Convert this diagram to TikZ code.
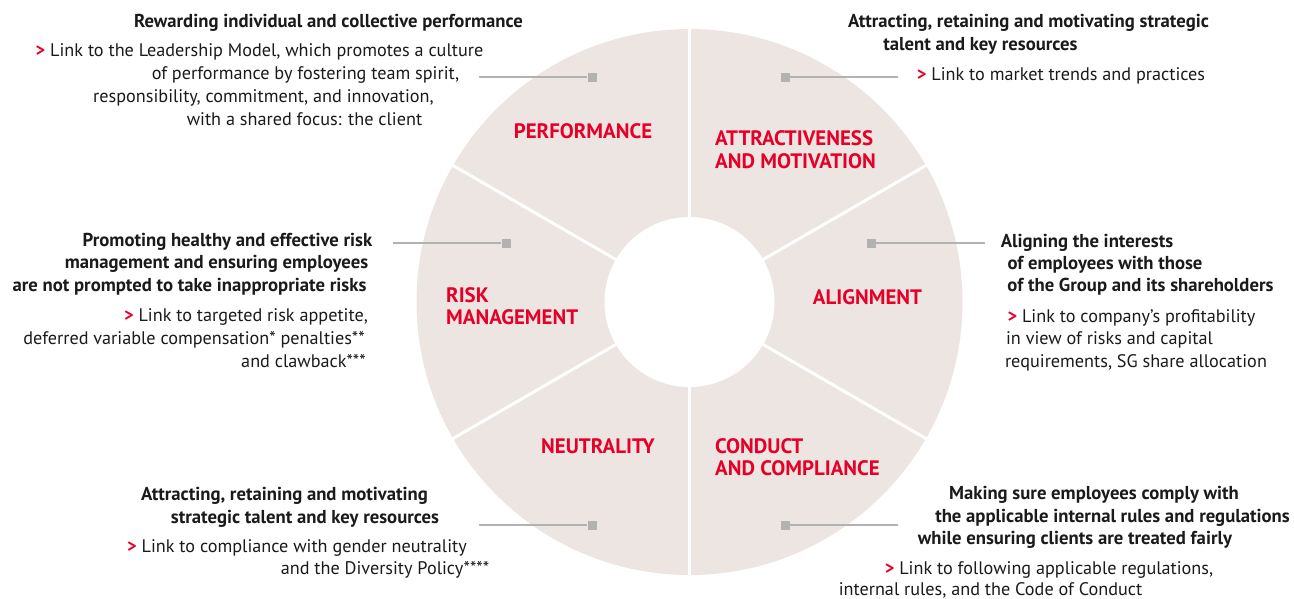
\documentclass[tikz,border=0pt]{standalone}
\usepackage{fontspec}
\setmainfont{PT Sans}
\begin{document}
\definecolor{wheel}{RGB}{236,229,226}
\definecolor{sgred}{RGB}{230,0,40}
\definecolor{ink}{RGB}{26,26,26}
\definecolor{conn}{RGB}{178,178,178}
\tikzset{
  head/.style={anchor=base, inner sep=0pt, text=ink, font=\fontsize{18.7}{22}\selectfont\bfseries},
  body/.style={anchor=base, inner sep=0pt, text=ink, font=\fontsize{18.2}{22}\selectfont},
  seg/.style={inner sep=0pt, text=sgred, font=\fontsize{20.9}{24}\selectfont\bfseries},
  segc/.style={seg, anchor=base},
  segl/.style={seg, anchor=base west},
  sq/.style={fill=conn, minimum size=9pt, inner sep=0pt, draw=none},
  link/.style={draw=conn, line width=2pt},
}
\newcommand{\gt}{\textcolor{sgred}{\bfseries>}\ }
\begin{tikzpicture}[x=1pt, y=-1pt]
\useasboundingbox (0,0) rectangle (1294,598);

% wheel with six sectors and a white hub
\coordinate (c) at (689.5,302);
\fill[wheel] (c) circle[radius=273pt];
\foreach \a in {30,90,150,210,270,330}
  \draw[white, line width=3pt] (c) -- ++(\a:-280pt);
\fill[white] (c) circle[radius=85pt];

% sector titles
\node[segc] (performance) at (583,138) {PERFORMANCE};
\node[segl] (attr1) at (715,145) {ATTRACTIVENESS};
\node[segl] (attr2) at (715,168) {AND MOTIVATION};
\node[segl] (risk1) at (446,302) {RISK};
\node[segl] (risk2) at (446,324) {MANAGEMENT};
\node[segc] (alignment) at (867.5,304) {ALIGNMENT};
\node[segc] (neutrality) at (598,453) {NEUTRALITY};
\node[segl] (cond1) at (715,453) {CONDUCT};
\node[segl] (cond2) at (715,475) {AND COMPLIANCE};

% connectors
\node[sq] (s1) at (592,77) {};   \coordinate (e1) at (479,77);
\node[sq] (s2) at (785,77) {};   \coordinate (e2) at (898,77);
\node[sq] (s3) at (506,243) {};  \coordinate (e3) at (393,243);
\node[sq] (s4) at (871,243) {};  \coordinate (e4) at (985,243);
\node[sq] (s5) at (592,525) {};  \coordinate (e5) at (479,525);
\node[sq] (s6) at (785,525) {};  \coordinate (e6) at (898,525);
\foreach \i in {1,...,6} \draw[link] (e\i) -- (s\i);

% performance
\node[head] (p0) at (328.5,27) {Rewarding individual and collective performance};
\node[body] (p1) at (259.5,56) {\gt Link to the Leadership Model, which promotes a culture};
\node[body] (p2) at (305.5,79) {of performance by fostering team spirit,};
\node[body] (p3) at (263.5,102) {responsibility, commitment, and innovation,};
\node[body] (p4) at (304.5,125) {with a shared focus: the client};

% attractiveness and motivation
\node[head] (a0) at (1028.5,27) {Attracting, retaining and motivating strategic};
\node[head] (a1) at (980.5,50) {talent and key resources};
\node[body] (a2) at (1061,80) {\gt Link to market trends and practices};

% risk management
\node[head] (r0) at (227.5,246) {Promoting healthy and effective risk};
\node[head] (r1) at (216.5,268) {management and ensuring employees};
\node[head] (r2) at (189.5,291) {are not prompted to take inappropriate risks};
\node[body] (r3) at (246,321) {\gt Link to targeted risk appetite,};
\node[body] (r4) at (194,344) {deferred variable compensation* penalties**};
\node[body] (r5) at (303.5,367) {and clawback***};

% alignment
\node[head] (g0) at (1087,247) {Aligning the interests};
\node[head] (g1) at (1105,269) {of employees with those};
\node[head] (g2) at (1140.5,291) {of the Group and its shareholders};
\node[body] (g3) at (1131.5,322) {\gt Link to company’s profitability};
\node[body] (g4) at (1109.5,344) {in view of risks and capital};
\node[body] (g5) at (1136,367) {requirements, SG share allocation};

% neutrality
\node[head] (n0) at (284.5,500) {Attracting, retaining and motivating};
\node[head] (n1) at (305,523) {strategic talent and key resources};
\node[body] (n2) at (297,552) {\gt Link to compliance with gender neutrality};
\node[body] (n3) at (385,574) {and the Diversity Policy****};

% conduct and compliance
\node[head] (k0) at (1094,499) {Making sure employees comply with};
\node[head] (k1) at (1112.5,522) {the applicable internal rules and regulations};
\node[head] (k2) at (1075,544) {while ensuring clients are treated fairly};
\node[body] (k3) at (1049,574) {\gt Link to following applicable regulations,};
\node[body] (k4) at (990.5,595) {internal rules, and the Code of Conduct};
\end{tikzpicture}
\end{document}
